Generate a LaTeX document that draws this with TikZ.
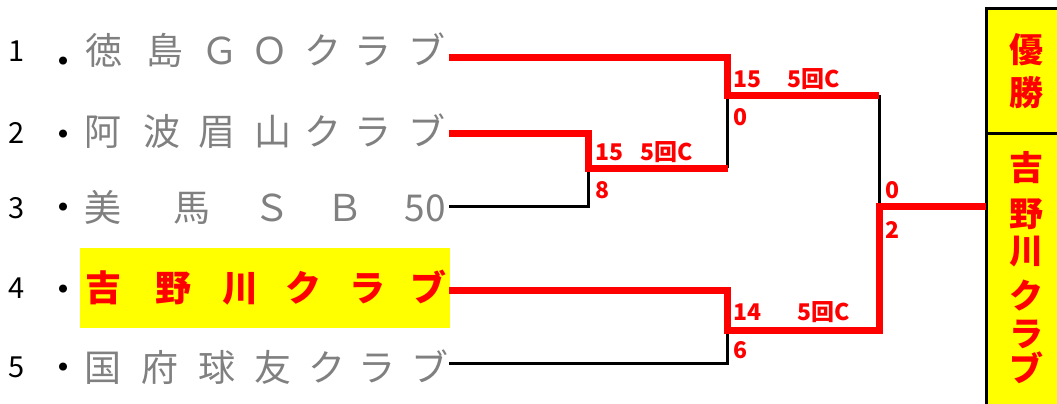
\documentclass[tikz,border=0pt]{standalone}
\usepackage{fontspec}
\newfontfamily\jp{Noto Sans CJK JP}
\definecolor{teamgray}{RGB}{128,128,128}
\definecolor{hlyellow}{RGB}{255,255,0}
\definecolor{winred}{RGB}{255,0,0}
\begin{document}
\begin{tikzpicture}[x=1pt,y=-1pt,
  team/.style={anchor=base,inner sep=0pt,text=teamgray,font=\jp\fontsize{37}{37}\selectfont},
  champ/.style={anchor=base,inner sep=0pt,text=winred,font=\jp\bfseries\fontsize{36}{36}\selectfont},
  num/.style={anchor=base,inner sep=0pt,text=black,font=\jp\fontsize{29}{29}\selectfont},
  dot/.style={anchor=center,inner sep=0pt,text=black,font=\jp\fontsize{38}{38}\selectfont},
  score/.style={anchor=base west,inner sep=0pt,text=winred,font=\jp\bfseries\fontsize{23}{23}\selectfont},
  boxchar/.style={anchor=base,inner sep=0pt,text=winred,font=\jp\bfseries\fontsize{34}{34}\selectfont},
  winline/.style={draw=winred,line width=7pt,line join=miter},
  loseline/.style={draw=black,line width=3pt,line join=miter}]
\useasboundingbox (0,0) rectangle (1057,404);
% highlight behind team 4
\fill[hlyellow] (80,248) rectangle (450,328);
% numbers and dots
\foreach \i/\y/\d in {1/62/66,2/143/139,3/218/212,4/298/294,5/377/372}{
  \node[num] (n\i) at (17,\y) {\i};
  \node[dot] (d\i) at (63,\d) {・};
}
% team names
\foreach \x/\c [count=\k] in {104/徳,165/島,220/Ｇ,270/Ｏ,323/ク,373/ラ,427/ブ}
  \node[team] (ta\k) at (\x,64) {\c};
\foreach \x/\c [count=\k] in {103/阿,162/波,217/眉,273/山,323/ク,373/ラ,427/ブ}
  \node[team] (tb\k) at (\x,145) {\c};
\foreach \x/\c [count=\k] in {103/美,192/馬,272/Ｓ,345/Ｂ,425/50}
  \node[team] (tc\k) at (\x,221) {\c};
\foreach \x/\c [count=\k] in {103/吉,173/野,240/川,303/ク,367/ラ,428/ブ}
  \node[champ] (td\k) at (\x,301) {\c};
\foreach \x/\c [count=\k] in {103/国,160/府,217/球,273/友,327/ク,377/ラ,430/ブ}
  \node[team] (te\k) at (\x,381) {\c};
% bracket coordinates
\coordinate (e1) at (449,58);
\coordinate (e2) at (449,133);
\coordinate (e3) at (449,206);
\coordinate (e4) at (449,290);
\coordinate (e5) at (449,363);
\coordinate (m1) at (588,168);
\coordinate (m2) at (727.5,95);
\coordinate (m3) at (727.5,330);
\coordinate (f) at (879,206);
% winner box
\filldraw[fill=hlyellow,draw=black,line width=3pt] (986,9) rectangle (1075,420);
\draw[black,line width=3pt] (986,133) -- (1075,133);
\coordinate (boxw) at (986,206);
\foreach \y/\c [count=\k] in {63/優,105/勝}
  \node[boxchar] (w\k) at (1026,\y) {\c};
\foreach \y/\c [count=\k] in {180/吉,226/野,263/川,308/ク,346/ラ,381/ブ}
  \node[boxchar] (c\k) at (1026,\y) {\c};
% losing lines
\draw[loseline] (e3) -| (m1);
\draw[loseline] (m1 -| m2) -- (m2);
\draw[loseline] (e5) -| (m3);
\draw[loseline] (m2 -| f) -- (f);
% winning lines
\draw[winline] (e1) -| (m2) -- (m2 -| f);
\draw[winline] (e2) -| (m1) -- (m1 -| m2);
\draw[winline] (e4) -| (m3) -- (m3 -| f) -- (f) -- (boxw);
% scores
\node[score] (s1a) at (733,87) {15};
\node[score] (s1b) at (787,87) {5回C};
\node[score] (s1c) at (733,125) {0};
\node[score] (s2a) at (595,160) {15};
\node[score] (s2b) at (640,160) {5回C};
\node[score] (s2c) at (595,198) {8};
\node[score] (s3a) at (885,198) {0};
\node[score] (s3b) at (885,238) {2};
\node[score] (s4a) at (733,320) {14};
\node[score] (s4b) at (797,320) {5回C};
\node[score] (s4c) at (733,358) {6};
\end{tikzpicture}
\end{document}
